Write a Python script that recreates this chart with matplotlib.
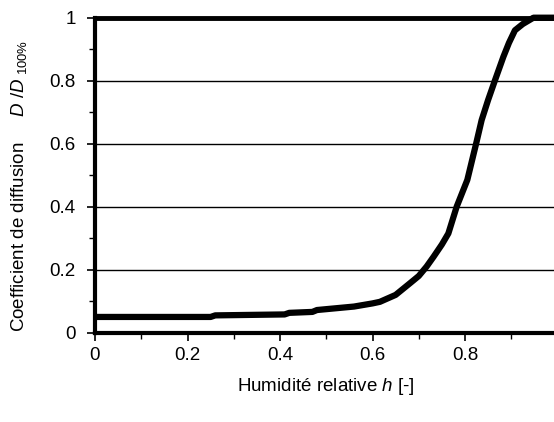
import numpy as np
import matplotlib
matplotlib.use("Agg")
import matplotlib.pyplot as plt
from matplotlib.ticker import MultipleLocator, FuncFormatter

# relative humidity h [-] and diffusion coefficient ratio D/D100%
humidity = [0.0, 0.10, 0.25, 0.26, 0.41, 0.42, 0.47, 0.48, 0.56, 0.60, 0.616,
            0.65, 0.681, 0.70, 0.717, 0.732, 0.75, 0.764, 0.782, 0.805, 0.825,
            0.836, 0.85, 0.865, 0.883, 0.895, 0.908, 0.925, 0.948, 0.97, 1.0]
diffusion = [0.05, 0.05, 0.05, 0.055, 0.058, 0.063, 0.066, 0.072, 0.083, 0.093, 0.098,
             0.12, 0.157, 0.18, 0.21, 0.241, 0.28, 0.315, 0.40, 0.485, 0.606,
             0.675, 0.739, 0.802, 0.876, 0.92, 0.96, 0.98, 1.0, 1.0, 1.0]

plt.rcParams['font.family'] = ['Liberation Sans', 'DejaVu Sans']
plt.rcParams['mathtext.fontset'] = 'custom'
plt.rcParams['mathtext.rm'] = 'Liberation Sans'
plt.rcParams['mathtext.it'] = 'Liberation Sans:italic'

fig = plt.figure(figsize=(5.54, 4.22), dpi=100)
ax = fig.add_axes([95 / 554, (422 - 332.7) / 422, 462.5 / 554, 315 / 422])

ax.plot(humidity, diffusion, color='black', linewidth=4.5, solid_capstyle='butt',
        clip_on=False, zorder=3)

ax.set_xlim(0, 1)
ax.set_ylim(0, 1)
ax.xaxis.set_major_locator(MultipleLocator(0.2))
ax.xaxis.set_minor_locator(MultipleLocator(0.1))
ax.yaxis.set_major_locator(MultipleLocator(0.2))
ax.yaxis.set_minor_locator(MultipleLocator(0.1))
# the x label at 1 falls outside the picture in the original, so leave it blank
ax.xaxis.set_major_formatter(FuncFormatter(lambda v, p: '' if v > 0.99 else '%g' % round(v, 2)))
ax.yaxis.set_major_formatter(FuncFormatter(lambda v, p: '%g' % round(v, 2)))

ax.grid(axis='y', which='major', color='black', linewidth=1.0)
ax.set_axisbelow(True)

for side in ['left', 'bottom']:
    ax.spines[side].set_linewidth(3)
ax.spines['top'].set_linewidth(3.5)
ax.spines['right'].set_visible(False)

ax.tick_params(which='major', direction='out', length=6, width=1.2,
               labelsize=13.5, pad=4)
ax.tick_params(axis='y', which='major', pad=8)
ax.tick_params(which='minor', direction='out', length=4, width=1.0)
ax.tick_params(axis='x', which='both', top=False)
ax.tick_params(axis='y', which='both', right=False)

ax.set_xlabel(r'Humidité relative $h$ [-]', fontsize=13.5, labelpad=9)
ax.set_ylabel(r'Coefficient de diffusion     $D$ /$D$$_{\ 100\%}$', fontsize=13.5)
ax.yaxis.set_label_coords(-0.143, 0.466)

fig.savefig('out.png', dpi=100)
